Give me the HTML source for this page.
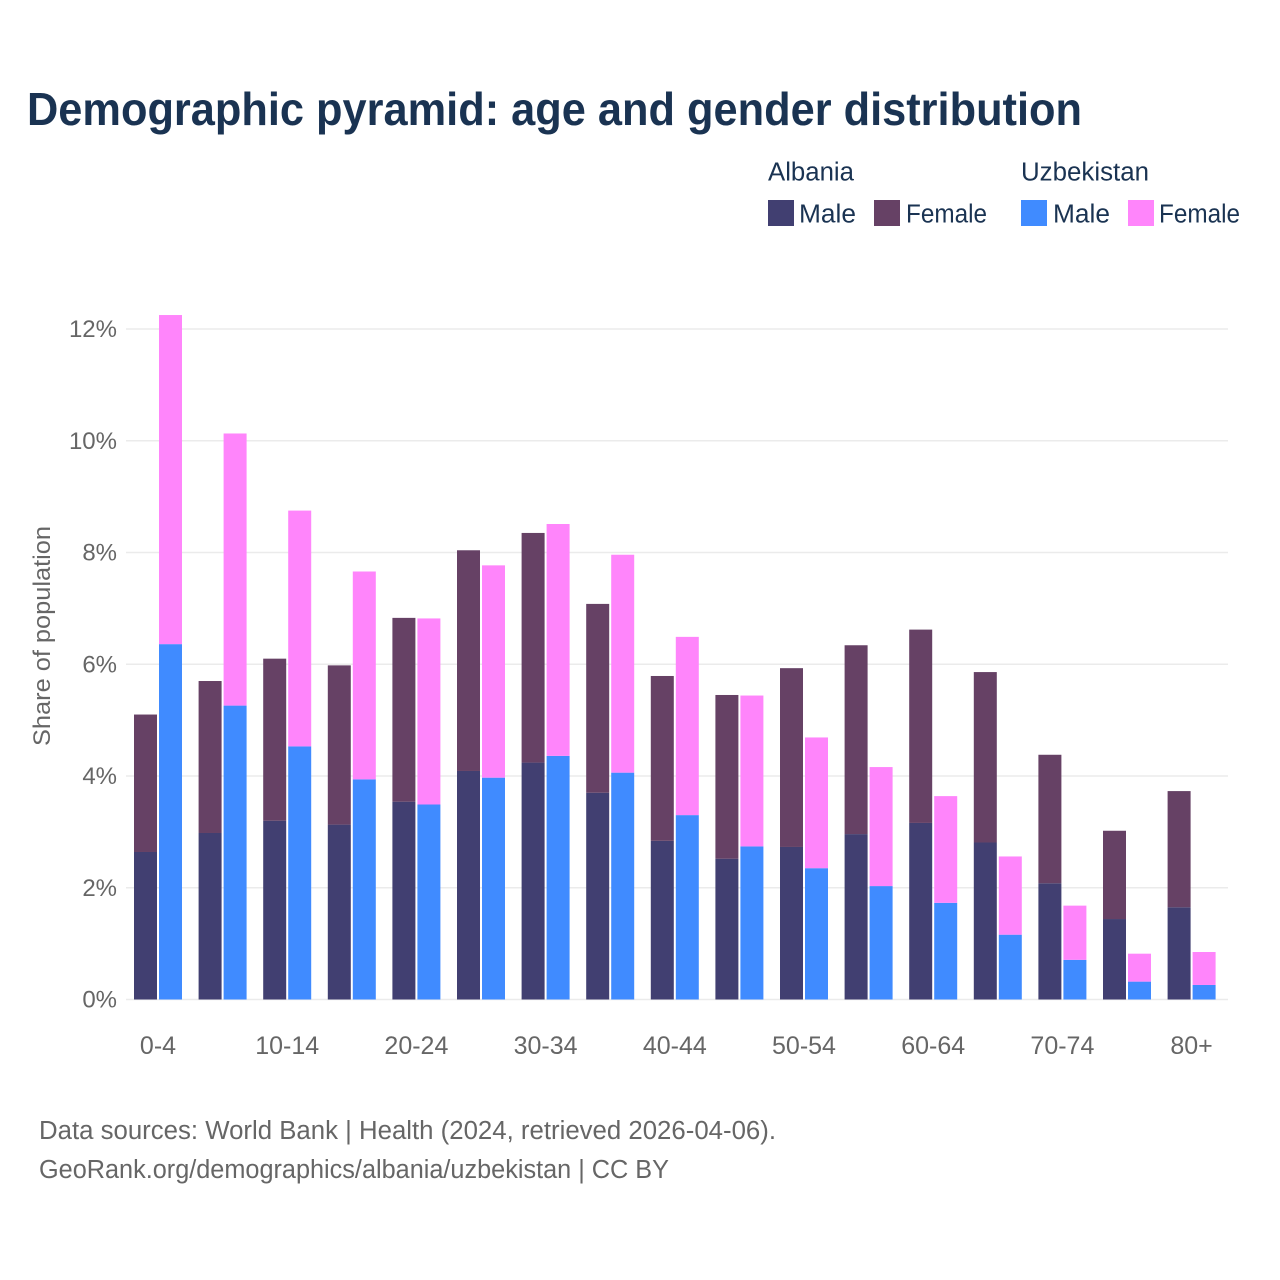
<!DOCTYPE html>
<html lang="en">
<head>
<meta charset="utf-8">
<title>Demographic pyramid</title>
<style>
html,body{margin:0;padding:0;background:#fff}
svg{display:block}
text{font-family:"Liberation Sans",Arial,sans-serif}
</style>
</head>
<body>
<svg id="chart" xmlns="http://www.w3.org/2000/svg" width="1280" height="1280" viewBox="0 0 1280 1280">
<rect width="1280" height="1280" fill="#fff"/>
<text x="27" y="125" font-size="46" font-weight="700" fill="#1a3352" textLength="1055" lengthAdjust="spacingAndGlyphs">Demographic pyramid: age and gender distribution</text>
<g font-size="25.5" fill="#1a3352">
<text x="768" y="180.5" textLength="86" lengthAdjust="spacingAndGlyphs">Albania</text>
<text x="1021" y="180.5" textLength="128" lengthAdjust="spacingAndGlyphs">Uzbekistan</text>
<rect x="768" y="200" width="26" height="26" fill="#413f71"/>
<text x="799" y="222.5" textLength="57" lengthAdjust="spacingAndGlyphs">Male</text>
<rect x="874" y="200" width="26" height="26" fill="#664165"/>
<text x="906" y="222.5" textLength="81" lengthAdjust="spacingAndGlyphs">Female</text>
<rect x="1021" y="200" width="26" height="26" fill="#408bff"/>
<text x="1053" y="222.5" textLength="57" lengthAdjust="spacingAndGlyphs">Male</text>
<rect x="1128" y="200" width="26" height="26" fill="#ff85fb"/>
<text x="1159" y="222.5" textLength="81" lengthAdjust="spacingAndGlyphs">Female</text>
</g>
<g id="grid"></g>
<g id="ylabels"></g>
<g id="bars"></g>
<g id="xlabels"></g>
<text transform="translate(50,636) rotate(-90)" text-anchor="middle" font-size="24" fill="#666" textLength="220" lengthAdjust="spacingAndGlyphs">Share of population</text>
<text x="39" y="1139" font-size="25.5" fill="#666" textLength="737" lengthAdjust="spacingAndGlyphs">Data sources: World Bank | Health (2024, retrieved 2026-04-06).</text>
<text x="39" y="1178" font-size="25.5" fill="#666" textLength="630" lengthAdjust="spacingAndGlyphs">GeoRank.org/demographics/albania/uzbekistan | CC BY</text>
</svg>
<script>
const categories = ["0-4","5-9","10-14","15-19","20-24","25-29","30-34","35-39","40-44","45-49","50-54","55-59","60-64","65-69","70-74","75-79","80+"];
const tickLabelCategories = ["0-4","10-14","20-24","30-34","40-44","50-54","60-64","70-74","80+"];
const yTicks = [0,2,4,6,8,10,12];
const albaniaMale = [2.64,2.98,3.20,3.13,3.54,4.09,4.24,3.70,2.84,2.52,2.73,2.96,3.16,2.81,2.08,1.44,1.65];
const albaniaFemale = [2.46,2.72,2.90,2.85,3.29,3.95,4.11,3.38,2.95,2.93,3.20,3.38,3.46,3.05,2.30,1.58,2.08];
const uzbekistanMale = [6.36,5.26,4.53,3.94,3.49,3.97,4.36,4.06,3.30,2.74,2.35,2.03,1.73,1.16,0.71,0.32,0.26];
const uzbekistanFemale = [5.89,4.87,4.22,3.72,3.33,3.80,4.15,3.90,3.19,2.70,2.34,2.13,1.91,1.40,0.97,0.50,0.59];

const NS = "http://www.w3.org/2000/svg";
const plotLeft = 126, plotRight = 1228, bandStep = 64.6, barWidth = 23, barGap = 2, barInset = 8;
function yScale(v){ return 999.5 - v * 55.875; }
function xScale(i){ return plotLeft + barInset + i * bandStep; }

const gridG = document.getElementById("grid");
const yLabelG = document.getElementById("ylabels");
const barsG = document.getElementById("bars");
const xLabelG = document.getElementById("xlabels");

yTicks.forEach(function(t){
  const line = document.createElementNS(NS, "line");
  
  
  line.setAttribute("x1", plotLeft);
  line.setAttribute("x2", plotRight);
  line.setAttribute("y1", yScale(t));
  line.setAttribute("y2", yScale(t));
  line.setAttribute("stroke", "#ebebeb");
  line.setAttribute("stroke-width", "1.6");
  gridG.appendChild(line);
  const label = document.createElementNS(NS, "text");
  
  
  label.setAttribute("x", 117);
  label.setAttribute("y", yScale(t) + 8);
  label.setAttribute("text-anchor", "end");
  label.setAttribute("font-size", "24");
  label.setAttribute("fill", "#666");
  label.textContent = t + "%";
  yLabelG.appendChild(label);
});

function drawBar(x, bottom, top, color, name){
  const r = document.createElementNS(NS, "rect");
  
  
  r.setAttribute("x", x);
  r.setAttribute("y", yScale(top));
  r.setAttribute("width", barWidth);
  r.setAttribute("height", yScale(bottom) - yScale(top));
  r.setAttribute("fill", color);
  barsG.appendChild(r);
}

categories.forEach(function(cat, i){
  const x1 = xScale(i);
  const x2 = x1 + barWidth + barGap;
  drawBar(x1, 0, albaniaMale[i], "#413f71", "bar-albania-male");
  drawBar(x1, albaniaMale[i], albaniaMale[i] + albaniaFemale[i], "#664165", "bar-albania-female");
  drawBar(x2, 0, uzbekistanMale[i], "#408bff", "bar-uzbekistan-male");
  drawBar(x2, uzbekistanMale[i], uzbekistanMale[i] + uzbekistanFemale[i], "#ff85fb", "bar-uzbekistan-female");
  if (tickLabelCategories.indexOf(cat) >= 0) {
    const label = document.createElementNS(NS, "text");
    
    
    label.setAttribute("x", x1 + barWidth + barGap / 2);
    label.setAttribute("y", 1054);
    label.setAttribute("text-anchor", "middle");
    label.setAttribute("font-size", "25");
    label.setAttribute("fill", "#666");
    label.textContent = cat;
    xLabelG.appendChild(label);
  }
});
</script>
</body>
</html>
